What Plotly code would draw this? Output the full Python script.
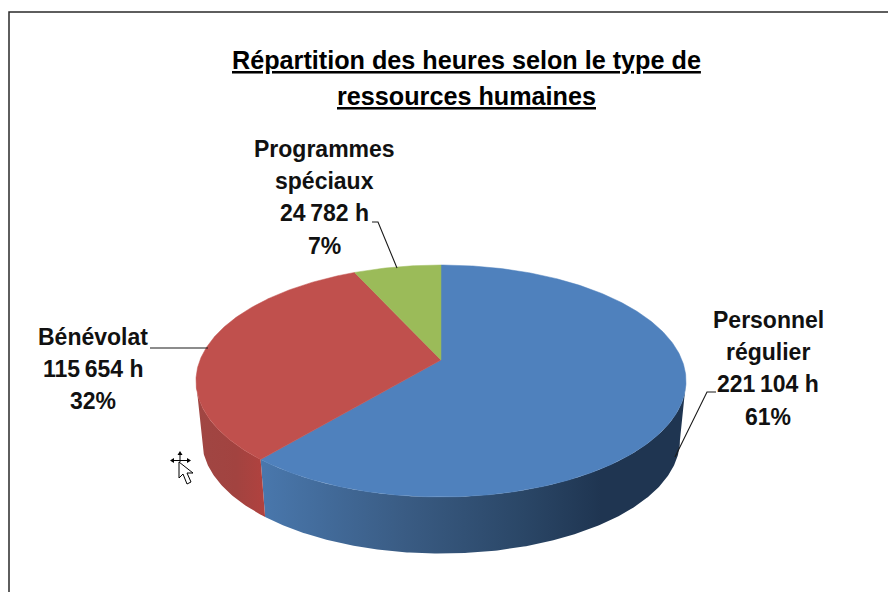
import numpy as np
import plotly.graph_objects as go

# ---- data ----
categories = [["Personnel", "régulier"], ["Bénévolat"], ["Programmes", "spéciaux"]]
hours = [221104, 115654, 24782]
percent_labels = ["61%", "32%", "7%"]
title_lines = ["Répartition des heures selon le type de", "ressources humaines"]

# ---- style ----
top_colors = ["#4F81BD", "#C0504D", "#9BBB59"]
side_scales = [
    [[0, "#4977AC"], [0.33, "#3A5C84"], [0.62, "#2A4666"], [0.8, "#1F3551"], [1, "#1F3551"]],
    [[0, "#A04643"], [0.6, "#A24340"], [1, "#B0423F"]],
    [[0, "#7D974A"], [1, "#7D974A"]],
]
side_span = [(263, 686), (196, 263), (350, 441)]
label_x = [768, 93, 324]
label_first_y = [320, 337, 149]
LINE_STEP = 32.2
title_y = [60, 96]
TEXT = "#111111"
FONT = "Liberation Sans, Arial, sans-serif"

# ---- projection of the tilted disc (perspective) ----
CX, CY, BX, BY, K = 441.0, 360.0, 241.0, 112.2, 0.181
DEPTH, LOWER = 60.0, 0.975
# angles at which the rim reaches its left / right extreme on screen
SIL_R = float(np.degrees(np.arccos(-K)))
SIL_L = 360.0 - SIL_R


def rim(a0, a1, lower=False):
    a = np.radians(np.linspace(a0, a1, max(int(abs(a1 - a0)) * 2, 2)))
    X, Y = np.sin(a), np.cos(a)
    w = 1 + K * Y
    s = LOWER if lower else 1.0
    return CX + s * BX * X / w, CY - s * BY * Y / w + (DEPTH if lower else 0.0)


share = np.array(hours) / sum(hours)
edges = np.concatenate([[0], np.cumsum(share) * 360])

fig = go.Figure()

# side walls: only the part of each slice between the two silhouette angles
for i in range(len(hours)):
    a0, a1 = max(edges[i], SIL_R), min(edges[i + 1], SIL_L)
    if a1 <= a0:
        continue
    tx, ty = rim(a0, a1)
    bx, by = rim(a0, a1, lower=True)
    fig.add_trace(go.Scatter(
        x=np.concatenate([tx, bx[::-1]]), y=np.concatenate([ty, by[::-1]]),
        mode="lines", line=dict(width=0), fill="toself",
        fillgradient=dict(type="horizontal", colorscale=side_scales[i],
                          start=side_span[i][0], stop=side_span[i][1]),
        hoverinfo="skip", showlegend=False))

# top faces
for i in range(len(hours)):
    tx, ty = rim(edges[i], edges[i + 1])
    fig.add_trace(go.Scatter(
        x=np.concatenate([[CX], tx, [CX]]), y=np.concatenate([[CY], ty, [CY]]),
        mode="lines", line=dict(width=0.5, color=top_colors[i]), fill="toself",
        fillcolor=top_colors[i], name=" ".join(categories[i]),
        hoverinfo="skip", showlegend=False))

# data labels, one text per line
for i in range(len(hours)):
    value = f"{hours[i]:,}".replace(",", "\u2009")
    lines = categories[i] + [f"{value} h", percent_labels[i]]
    for j, line in enumerate(lines):
        fig.add_annotation(
            x=label_x[i], y=label_first_y[i] + j * LINE_STEP, xref="x", yref="y",
            showarrow=False, text=line,
            font=dict(family=FONT, size=23, color=TEXT, weight="bold"))

# title
for t, y in zip(title_lines, title_y):
    fig.add_annotation(
        x=466, y=y, xref="x", yref="y", showarrow=False, text=f"<u>{t}</u>",
        font=dict(family=FONT, size=25.2, color="#000000", weight="bold"))

shapes = [
    # frame
    dict(type="path", path="M 9 592 L 9 12 L 888 12", line=dict(color="#2A2A2A", width=1.5)),
    # leader lines
    dict(type="path", path="M 675 457 L 707 392 L 716 392", line=dict(color="#1A1A1A", width=1.1)),
    dict(type="path", path="M 150 348 L 208 348", line=dict(color="#1A1A1A", width=1.1)),
    dict(type="path", path="M 372 222 L 378 222 L 397 268", line=dict(color="#1A1A1A", width=1.1)),
    # mouse cursor
    dict(type="path", path="M 180 451 L 177.5 455 L 182.5 455 Z", fillcolor="#000", line=dict(width=0)),
    dict(type="path", path="M 170 460.5 L 174 458 L 174 463 Z", fillcolor="#000", line=dict(width=0)),
    dict(type="path", path="M 191 460.5 L 187 458 L 187 463 Z", fillcolor="#000", line=dict(width=0)),
    dict(type="path", path="M 174 460.5 L 187 460.5 M 180 455 L 180 462",
         line=dict(color="#000", width=1)),
    dict(type="path", path="M 179 462 L 179 478 L 183 474 L 187 484 L 191 482 L 187 473 L 193 473 Z",
         fillcolor="#FFFFFF", line=dict(color="#000", width=1)),
]

fig.update_layout(
    width=888, height=592, margin=dict(l=0, r=0, t=0, b=0),
    paper_bgcolor="#FFFFFF", plot_bgcolor="#FFFFFF", showlegend=False,
    xaxis=dict(range=[0, 888], visible=False, fixedrange=True),
    yaxis=dict(range=[592, 0], visible=False, fixedrange=True),
    shapes=shapes,
)

fig.write_html("out.html", config={"displayModeBar": False},
               post_script="document.body.style.margin='0';document.body.style.overflow='hidden';")
